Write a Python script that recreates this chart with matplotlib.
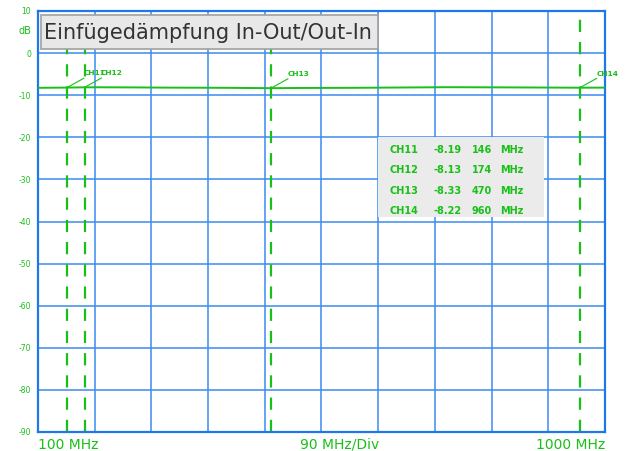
import matplotlib
matplotlib.use("Agg")
import matplotlib.pyplot as plt
from matplotlib.patches import Rectangle

# Data
freq_mhz = [100, 120, 146, 174, 200, 250, 300, 350, 400, 470, 520, 600, 650, 700, 750, 800, 850, 900, 960, 1000]
gain_db = [-8.25, -8.22, -8.19, -8.13, -8.12, -8.15, -8.2, -8.22, -8.25, -8.33, -8.28, -8.25, -8.2, -8.15, -8.1, -8.12, -8.15, -8.18, -8.22, -8.2]
marker_names = ["CH11", "CH12", "CH13", "CH14"]
marker_freq = [146, 174, 470, 960]
marker_db = [-8.19, -8.13, -8.33, -8.22]
yticks = [10, 0, -10, -20, -30, -40, -50, -60, -70, -80, -90]
title = "Einfügedämpfung In-Out/Out-In"

GREEN = "#18c018"
BLUE = "#3a8cf0"

fig = plt.figure(figsize=(6.27, 4.52), dpi=100)
ax = fig.add_axes([38/627, 19/452, (605-38)/627, (433-12)/452])
ax.set_xlim(100, 1000)
ax.set_ylim(-90, 10)

# grid
for x in range(100 + 90, 1000, 90):
    ax.axvline(x, color=BLUE, lw=1.1, zorder=1)
for y in range(0, -90, -10):
    ax.axhline(y, color=BLUE, lw=1.1, zorder=1)
for s in ax.spines.values():
    s.set_color("#1f78e8")
    s.set_linewidth(1.6)
ax.set_xticks([])
ax.set_yticks([])

# trace
ax.plot(freq_mhz, gain_db, color=GREEN, lw=1.4, zorder=3)

# markers
for name, f, d in zip(marker_names, marker_freq, marker_db):
    ax.axvline(f, color=GREEN, lw=1.6, linestyle=(0, (5.5, 4.5)), zorder=2)
    ax.annotate(name, xy=(f, d), xytext=(f + 26, d + 3.6), color=GREEN,
                fontsize=5.3, fontweight="bold", ha="left", va="center",
                arrowprops=dict(arrowstyle="-", color=GREEN, lw=0.8,
                                shrinkA=0, shrinkB=0), zorder=4)

# y tick labels
for y in yticks:
    fig.text(31/627, (452 - (12 + (10 - y) * 4.21)) / 452, str(y), color=GREEN,
             fontsize=5.5, ha="right", va="center")
fig.text(31/627, (452 - 31) / 452, "dB", color=GREEN, fontsize=7, ha="right", va="center")

# bottom labels
fig.text(38/627, 7/452, "100 MHz", color=GREEN, fontsize=10, ha="left", va="center")
fig.text(340/627, 7/452, "90 MHz/Div", color=GREEN, fontsize=10, ha="center", va="center")
fig.text(605/627, 7/452, "1000 MHz", color=GREEN, fontsize=10, ha="right", va="center")

# title box
fig.patches.append(Rectangle((41/627, (452-50)/452), (378-41)/627, 34/452,
                             transform=fig.transFigure, facecolor="#e8e8e8",
                             edgecolor="#a0a0a0", lw=1.2, zorder=5))
fig.text(44/627, (452-33)/452, title, color="#333333", fontsize=15,
         ha="left", va="center", zorder=6)

# readout table
fig.patches.append(Rectangle((378/627, (452-218)/452), (544-378)/627, 80/452,
                             transform=fig.transFigure, facecolor="#ebebeb",
                             edgecolor="none", zorder=5))
for i, (name, f, d) in enumerate(zip(marker_names, marker_freq, marker_db)):
    yy = (452 - (150 + i * 20.3)) / 452
    kw = dict(color=GREEN, fontsize=7, fontweight="bold", va="center", zorder=6)
    fig.text(389/627, yy, name, ha="left", **kw)
    fig.text(433/627, yy, f"{d:.2f}", ha="left", **kw)
    fig.text(472/627, yy, f"{f}", ha="left", **kw)
    fig.text(500/627, yy, "MHz", ha="left", **kw)

fig.savefig("out.png", dpi=100)
